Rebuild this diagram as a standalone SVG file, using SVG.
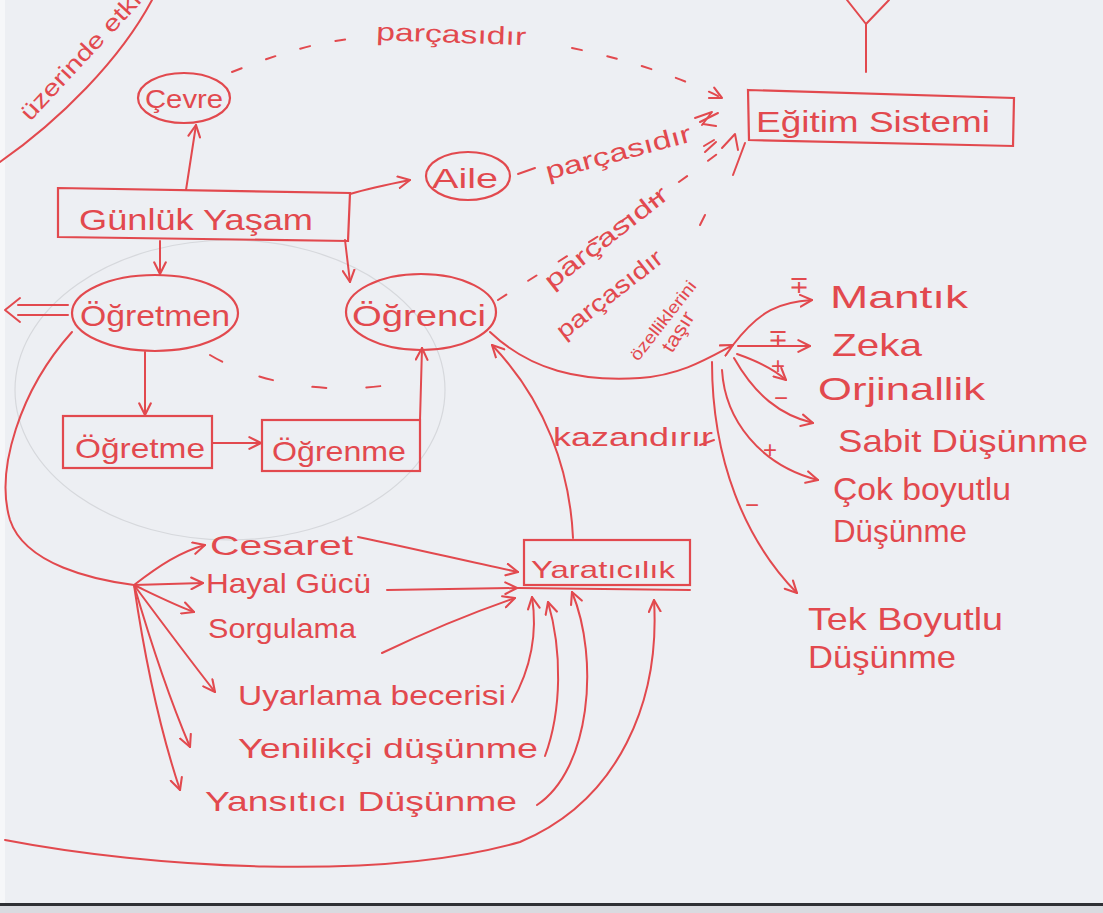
<svg xmlns="http://www.w3.org/2000/svg" width="1103" height="913" viewBox="0 0 1103 913">
<defs>
<style>
.ln{fill:none;stroke:#e2494e;stroke-width:2;stroke-linecap:round;stroke-linejoin:round}
.ds{fill:none;stroke:#e2494e;stroke-width:2;stroke-linecap:round;stroke-dasharray:10 26}
.bx{fill:none;stroke:#e2494e;stroke-width:2.2}
.t{font-family:"Liberation Sans",Arial,sans-serif;fill:#e2494e}
.faint{fill:none;stroke:#d6d8dc;stroke-width:1.2}
</style>
<marker id="ah" viewBox="0 0 12 12" refX="11" refY="6" markerWidth="14" markerHeight="14" markerUnits="userSpaceOnUse" orient="auto">
<path d="M1,1 L11,6 L1,11" fill="none" stroke="#e2494e" stroke-width="1.8" stroke-linecap="round" stroke-linejoin="round"/>
</marker>
</defs>
<rect width="1103" height="913" fill="#edeff3"/>
<rect x="0" y="0" width="5" height="903" fill="#f6f7f9"/>
<rect x="0" y="903" width="1103" height="3" fill="#2e3034"/>
<rect x="0" y="906" width="1103" height="7" fill="#d9dbe0"/>
<ellipse class="faint" cx="230" cy="390" rx="215" ry="150"/>

<g id="connectors">
<path class="ln" d="M0,162 C60,120 120,60 152,0"/>
<path class="ln" d="M847,0 L866,24 L889,0 M866,24 L866,72"/>
<path class="ds" d="M232,72 C300,45 340,38 370,38"/>
<path class="ds" d="M572,48 C640,62 690,82 722,98" marker-end="url(#ah)"/>
<path class="ln" d="M186,190 L196,125" marker-end="url(#ah)"/>
<path class="ln" d="M350,194 C370,188 390,184 410,180" marker-end="url(#ah)"/>
<path class="ln" d="M518,174 L535,168"/>
<path class="ln" d="M700,122 L718,113 M703,124 L716,126" />
<path class="ln" d="M695,118 L712,112 L702,125"/>
<path class="ds" d="M498,300 C560,260 660,200 735,140" />
<path class="ln" d="M722,148 L735,134 L738,150"/>
<path class="ln" d="M705,152 L716,142 M704,146 L714,140"/>
<path class="ln" d="M733,175 L745,143"/>
<path class="ln" d="M700,225 L705,215"/>
<path class="ln" d="M160,241 L160,274" marker-end="url(#ah)"/>
<path class="ln" d="M345,240 L350,282" marker-end="url(#ah)"/>
<path class="ln" d="M18,305 L68,305 M18,315 L68,315 M20,298 L5,310 L20,322"/>
<path class="ln" d="M145,352 L145,415" marker-end="url(#ah)"/>
<path class="ln" d="M212,443 L261,443" marker-end="url(#ah)"/>
<path class="ln" d="M420,420 L422,348" marker-end="url(#ah)"/>
<path class="ds" style="stroke-dasharray:14 40" d="M210,355 C260,385 330,395 395,384"/>
<path class="ln" d="M490,332 C530,370 580,382 640,378 C680,375 705,360 733,345" marker-end="url(#ah)"/>
<path class="ln" d="M733,345 C760,310 780,302 812,300" marker-end="url(#ah)"/>
<path class="ln" d="M738,346 L810,346" marker-end="url(#ah)"/>
<path class="ln" d="M737,354 C760,362 775,370 786,380" marker-end="url(#ah)"/>
<path class="ln" d="M734,358 C755,395 780,415 813,423" marker-end="url(#ah)"/>
<path class="ln" d="M722,370 C725,420 760,465 818,480" marker-end="url(#ah)"/>
<path class="ln" d="M712,362 C712,460 745,540 797,593" marker-end="url(#ah)"/>
<path class="ln" d="M700,445 L714,440"/>
<path class="ln" d="M573,538 C570,470 545,400 492,345" marker-end="url(#ah)"/>
<path class="ln" d="M72,332 C20,390 -5,470 10,520 C25,565 95,580 134,585"/>
<path class="ln" d="M134,585 C160,565 180,552 205,545" marker-end="url(#ah)"/>
<path class="ln" d="M134,585 L203,583" marker-end="url(#ah)"/>
<path class="ln" d="M134,585 C155,595 175,605 194,612" marker-end="url(#ah)"/>
<path class="ln" d="M134,585 C160,620 190,660 215,692" marker-end="url(#ah)"/>
<path class="ln" d="M134,585 C150,640 170,700 190,747" marker-end="url(#ah)"/>
<path class="ln" d="M134,585 C145,660 160,730 180,790" marker-end="url(#ah)"/>
<path class="ln" d="M358,537 C420,550 470,562 518,572" marker-end="url(#ah)"/>
<path class="ln" d="M387,590 L517,588" marker-end="url(#ah)"/>
<path class="ln" d="M382,653 C430,630 480,610 515,598" marker-end="url(#ah)"/>
<path class="ln" d="M512,702 C530,670 538,635 532,597" marker-end="url(#ah)"/>
<path class="ln" d="M545,756 C562,710 562,650 548,602" marker-end="url(#ah)"/>
<path class="ln" d="M537,805 C590,770 600,660 572,592" marker-end="url(#ah)"/>
<path class="ln" d="M5,840 C150,868 380,882 520,842 C620,800 660,700 654,600" marker-end="url(#ah)"/>
</g>

<g id="label-uzerinde"><text class="t" font-size="23" transform="translate(30,122) rotate(-47)" textLength="165" lengthAdjust="spacingAndGlyphs">üzerinde etki</text></g>
<g id="label-parca1"><text class="t" font-size="25" transform="translate(376,40) rotate(2)" textLength="150" lengthAdjust="spacingAndGlyphs">parçasıdır</text></g>
<g id="label-parca2"><text class="t" font-size="25" transform="translate(548,180) rotate(-15)" textLength="150" lengthAdjust="spacingAndGlyphs">parçasıdır</text></g>
<g id="label-parca3"><text class="t" font-size="24" transform="translate(552,290) rotate(-38)" textLength="150" lengthAdjust="spacingAndGlyphs">parçasıdır</text></g>
<g id="label-parca4"><text class="t" font-size="24" transform="translate(564,340) rotate(-38)" textLength="128" lengthAdjust="spacingAndGlyphs">parçasıdır</text></g>
<g id="label-ozellik">
<text class="t" font-size="17" transform="translate(638,362) rotate(-52)" textLength="96" lengthAdjust="spacingAndGlyphs">özelliklerini</text>
<text class="t" font-size="20" transform="translate(672,354) rotate(-58)" textLength="44" lengthAdjust="spacingAndGlyphs">taşır</text>
</g>
<g id="label-kazandirir"><text class="t" font-size="26" x="553" y="446" textLength="160" lengthAdjust="spacingAndGlyphs">kazandırır</text></g>
<g id="signs" class="t" font-size="24">
<text x="789" y="293">∓</text>
<text x="768" y="346">∓</text>
<text x="771" y="374">+</text>
<text x="774" y="406">−</text>
<text x="763" y="458">+</text>
<text x="745" y="513">−</text>
</g>

<g id="node-cevre">
<ellipse class="bx" cx="184" cy="98" rx="46" ry="25"/>
<text class="t" font-size="26" x="145" y="108" textLength="78" lengthAdjust="spacingAndGlyphs">Çevre</text>
</g>
<g id="node-egitim">
<path class="bx" d="M748,90 L1014,98 L1013,146 L749,140 Z"/>
<text class="t" font-size="30" x="756" y="132" textLength="234" lengthAdjust="spacingAndGlyphs">Eğitim Sistemi</text>
</g>
<g id="node-gunluk">
<path class="bx" d="M58,188 L350,193 L348,241 L58,237 Z"/>
<text class="t" font-size="30" x="79" y="230" textLength="234" lengthAdjust="spacingAndGlyphs">Günlük Yaşam</text>
</g>
<g id="node-aile">
<ellipse class="bx" cx="468" cy="176" rx="42" ry="24"/>
<text class="t" font-size="28" x="432" y="188" textLength="66" lengthAdjust="spacingAndGlyphs">Aile</text>
</g>
<g id="node-ogretmen">
<ellipse class="bx" cx="155" cy="313" rx="83" ry="38"/>
<text class="t" font-size="30" x="80" y="326" textLength="150" lengthAdjust="spacingAndGlyphs">Öğretmen</text>
</g>
<g id="node-ogrenci">
<ellipse class="bx" cx="421" cy="312" rx="75" ry="38"/>
<text class="t" font-size="30" x="352" y="326" textLength="134" lengthAdjust="spacingAndGlyphs">Öğrenci</text>
</g>
<g id="node-ogretme">
<rect class="bx" x="63" y="416" width="149" height="52"/>
<text class="t" font-size="28" x="75" y="458" textLength="130" lengthAdjust="spacingAndGlyphs">Öğretme</text>
</g>
<g id="node-ogrenme">
<rect class="bx" x="262" y="420" width="158" height="51"/>
<text class="t" font-size="28" x="272" y="461" textLength="134" lengthAdjust="spacingAndGlyphs">Öğrenme</text>
</g>
<g id="node-yaraticilik">
<rect class="bx" x="524" y="540" width="166" height="45"/>
<path class="ln" d="M518,588 L690,590"/>
<text class="t" font-size="24" x="531" y="578" textLength="144" lengthAdjust="spacingAndGlyphs">Yaratıcılık</text>
</g>
<g id="node-mantik"><text class="t" font-size="32" x="830" y="308" textLength="138" lengthAdjust="spacingAndGlyphs">Mantık</text></g>
<g id="node-zeka"><text class="t" font-size="32" x="832" y="356" textLength="90" lengthAdjust="spacingAndGlyphs">Zeka</text></g>
<g id="node-orjinallik"><text class="t" font-size="32" x="818" y="400" textLength="167" lengthAdjust="spacingAndGlyphs">Orjinallik</text></g>
<g id="node-sabit"><text class="t" font-size="32" x="838" y="452" textLength="250" lengthAdjust="spacingAndGlyphs">Sabit Düşünme</text></g>
<g id="node-cok">
<text class="t" font-size="32" x="833" y="500" textLength="178" lengthAdjust="spacingAndGlyphs">Çok boyutlu</text>
<text class="t" font-size="32" x="833" y="542" textLength="134" lengthAdjust="spacingAndGlyphs">Düşünme</text>
</g>
<g id="node-tek">
<text class="t" font-size="32" x="808" y="630" textLength="195" lengthAdjust="spacingAndGlyphs">Tek Boyutlu</text>
<text class="t" font-size="32" x="808" y="668" textLength="148" lengthAdjust="spacingAndGlyphs">Düşünme</text>
</g>
<g id="node-cesaret"><text class="t" font-size="28" x="210" y="555" textLength="143" lengthAdjust="spacingAndGlyphs">Cesaret</text></g>
<g id="node-hayal"><text class="t" font-size="28" x="206" y="593" textLength="165" lengthAdjust="spacingAndGlyphs">Hayal Gücü</text></g>
<g id="node-sorgulama"><text class="t" font-size="28" x="208" y="638" textLength="148" lengthAdjust="spacingAndGlyphs">Sorgulama</text></g>
<g id="node-uyarlama"><text class="t" font-size="28" x="238" y="705" textLength="268" lengthAdjust="spacingAndGlyphs">Uyarlama becerisi</text></g>
<g id="node-yenilikci"><text class="t" font-size="28" x="238" y="758" textLength="300" lengthAdjust="spacingAndGlyphs">Yenilikçi düşünme</text></g>
<g id="node-yansitici"><text class="t" font-size="28" x="205" y="811" textLength="312" lengthAdjust="spacingAndGlyphs">Yansıtıcı Düşünme</text></g>
</svg>
